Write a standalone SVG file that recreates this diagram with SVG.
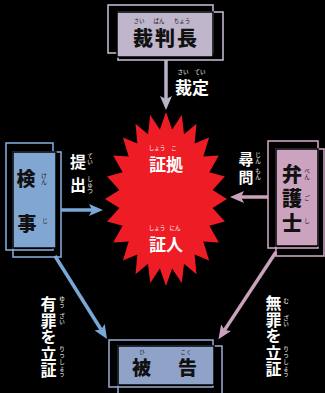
<svg xmlns="http://www.w3.org/2000/svg" width="325" height="393" viewBox="0 0 325 393">
<style>
  .ol { fill: none; stroke-width: 1.6; }
  .pnl { stroke: #000; stroke-width: 1.5; }
  .lav { stroke: #c0b6cc; } .lavf { fill: #c0b6cc; }
  .blu { stroke: #82a6d2; } .bluf { fill: #82a6d2; }
  .pnk { stroke: #cba3bf; } .pnkf { fill: #cba3bf; }
  .stl { stroke: #8fa3c8; } .stlf { fill: #8fa3c8; }
  .kj { font-family: "Noto Sans CJK JP", "Noto Sans", sans-serif; font-weight: 900; fill: #111; text-anchor: middle; }
  .lbl { font-family: "Noto Sans CJK JP", "Noto Sans", sans-serif; font-weight: 700; fill: #fff; text-anchor: middle; }
  .rb { font-family: "Noto Sans CJK JP", "Noto Sans", sans-serif; font-size: 5.5px; text-anchor: middle; }
  .rbw { fill: #fff; } .rbk { fill: #111; }
  .cn { fill: none; stroke-width: 3.5; }
</style>
<defs>
  <marker id="ah-lav" markerUnits="userSpaceOnUse" markerWidth="14" markerHeight="12" viewBox="0 0 14 12" refX="3" refY="6" orient="auto"><path d="M0,0 L14,6 L0,12 L3,6 z" fill="#b9b3c7"/></marker>
  <marker id="ah-blu" markerUnits="userSpaceOnUse" markerWidth="14" markerHeight="12" viewBox="0 0 14 12" refX="3" refY="6" orient="auto"><path d="M0,0 L14,6 L0,12 L3,6 z" fill="#79a7d8"/></marker>
  <marker id="ah-pnk" markerUnits="userSpaceOnUse" markerWidth="14" markerHeight="12" viewBox="0 0 14 12" refX="3" refY="6" orient="auto"><path d="M0,0 L14,6 L0,12 L3,6 z" fill="#c9a2bb"/></marker>
</defs>
<rect width="325" height="393" fill="#000"/>

<g id="connectors">
  <line class="cn" x1="166" y1="60" x2="166" y2="99" stroke="#b9b3c7" marker-end="url(#ah-lav)"/>
  <line class="cn" x1="61" y1="210" x2="92" y2="210" stroke="#79a7d8" marker-end="url(#ah-blu)"/>
  <line class="cn" x1="268" y1="197" x2="241" y2="197" stroke="#c9a2bb" marker-end="url(#ah-pnk)"/>
  <line class="cn" x1="55" y1="256" x2="101.2" y2="329.7" stroke="#79a7d8" stroke-width="3" marker-end="url(#ah-blu)"/>
  <line class="cn" x1="276" y1="252" x2="224.5" y2="330.1" stroke="#c9a2bb" stroke-width="3" marker-end="url(#ah-pnk)"/>
  <g class="lbl">
    <text x="192" y="94" font-size="17">裁定</text>
    <text font-size="16"><tspan x="78" y="168">提</tspan><tspan x="78" y="191">出</tspan></text>
    <text font-size="15"><tspan x="246" y="165">尋</tspan><tspan x="246" y="183">問</tspan></text>
    <text font-size="16"><tspan x="48.5" y="310">有</tspan><tspan x="48.5" y="326.5">罪</tspan><tspan x="48.5" y="343">を</tspan><tspan x="48.5" y="359.5">立</tspan><tspan x="48.5" y="376">証</tspan></text>
    <text font-size="16"><tspan x="273.5" y="309">無</tspan><tspan x="273.5" y="325.5">罪</tspan><tspan x="273.5" y="342">を</tspan><tspan x="273.5" y="358.5">立</tspan><tspan x="273.5" y="375">証</tspan></text>
  </g>
  <g class="rb rbw">
    <text y="73.5"><tspan x="183">さい</tspan><tspan x="200">てい</tspan></text>
    <text><tspan x="90" y="158">て</tspan><tspan x="90" y="164">い</tspan><tspan x="90" y="181">し</tspan><tspan x="90" y="187">ゅ</tspan><tspan x="90" y="193">つ</tspan></text>
    <text><tspan x="258" y="157">じ</tspan><tspan x="258" y="163">ん</tspan><tspan x="258" y="173">も</tspan><tspan x="258" y="179">ん</tspan></text>
    <text><tspan x="62" y="301">ゆ</tspan><tspan x="62" y="307">う</tspan><tspan x="62" y="318">ざ</tspan><tspan x="62" y="324">い</tspan><tspan x="62" y="351">り</tspan><tspan x="62" y="357">っ</tspan><tspan x="62" y="364">し</tspan><tspan x="62" y="370">ょ</tspan><tspan x="62" y="376">う</tspan></text>
    <text><tspan x="286" y="303">む</tspan><tspan x="286" y="320">ざ</tspan><tspan x="286" y="326">い</tspan><tspan x="286" y="351">り</tspan><tspan x="286" y="357">っ</tspan><tspan x="286" y="364">し</tspan><tspan x="286" y="370">ょ</tspan><tspan x="286" y="376">う</tspan></text>
  </g>
</g>

<g id="evidence">
  <polygon fill="#ee1c24" points="166,112 172.1,129.6 181.8,115 184,134.3 196.5,123.7 194.6,143.5 209.1,137.5 203.3,156.4 218.8,155.5 209.4,172.2 224.9,176.5 212.6,189.9 227,199 212.6,208.1 224.9,221.5 209.4,225.8 218.8,242.5 203.3,241.6 209.1,260.5 194.6,254.5 196.5,274.3 184,263.7 181.8,283 172.1,268.4 166,286 159.9,268.4 150.2,283 148,263.7 135.5,274.3 137.4,254.5 122.9,260.5 128.7,241.6 113.2,242.5 122.6,225.8 107.1,221.5 119.4,208.1 105,199 119.4,189.9 107.1,176.5 122.6,172.2 113.2,155.5 128.7,156.4 122.9,137.5 137.4,143.5 135.5,123.7 148,134.3 150.2,115 159.9,129.6"/>
  <text class="lbl" x="166" y="171" font-size="17">証拠</text>
  <text class="lbl" x="166" y="251" font-size="17">証人</text>
  <text class="rb rbw" y="150"><tspan x="157">しょう</tspan><tspan x="174">こ</tspan></text>
  <text class="rb rbw" y="230"><tspan x="157">しょう</tspan><tspan x="175">にん</tspan></text>
</g>

<g id="judge">
  <rect class="ol lav" x="108" y="5" width="105" height="48"/>
  <rect class="ol lav" x="118" y="12" width="105" height="48"/>
  <rect class="pnl lavf" x="117" y="12" width="96" height="45"/>
  <text class="kj" x="166" y="46" font-size="20" letter-spacing="2">裁判長</text>
  <text class="rb rbk" y="23"><tspan x="139">さい</tspan><tspan x="159">ばん</tspan><tspan x="182">ちょう</tspan></text>
</g>

<g id="prosecutor">
  <rect class="ol blu" x="6" y="143" width="47" height="107"/>
  <rect class="ol blu" x="13" y="152" width="48" height="105"/>
  <rect class="pnl bluf" x="13" y="152" width="43" height="96"/>
  <text class="kj" font-size="19"><tspan x="26" y="186">検</tspan><tspan x="27" y="231">事</tspan></text>
  <text class="rb rbk"><tspan x="44" y="178">け</tspan><tspan x="44" y="184">ん</tspan><tspan x="45" y="223">じ</tspan></text>
</g>

<g id="lawyer">
  <rect class="ol pnk" x="268" y="141" width="50" height="107"/>
  <rect class="ol pnk" x="276" y="149" width="48" height="107"/>
  <rect class="pnl pnkf" x="276" y="149" width="42" height="97"/>
  <text class="kj" font-size="20"><tspan x="292" y="182">弁</tspan><tspan x="292" y="206">護</tspan><tspan x="292" y="231">士</tspan></text>
  <text class="rb rbk"><tspan x="307" y="173">べ</tspan><tspan x="307" y="179">ん</tspan><tspan x="307" y="200">ご</tspan><tspan x="307" y="223">し</tspan></text>
</g>

<g id="defendant">
  <rect class="ol stl" x="109" y="340" width="104" height="47"/>
  <rect class="ol stl" x="118" y="346" width="104" height="50"/>
  <rect class="pnl stlf" x="118" y="346" width="96" height="39"/>
  <text class="kj" font-size="19"><tspan x="141.5" y="375">被</tspan><tspan x="187.5" y="375">告</tspan></text>
  <text class="rb rbk" y="353.5"><tspan x="142">ひ</tspan><tspan x="186">こく</tspan></text>
</g>
</svg>
